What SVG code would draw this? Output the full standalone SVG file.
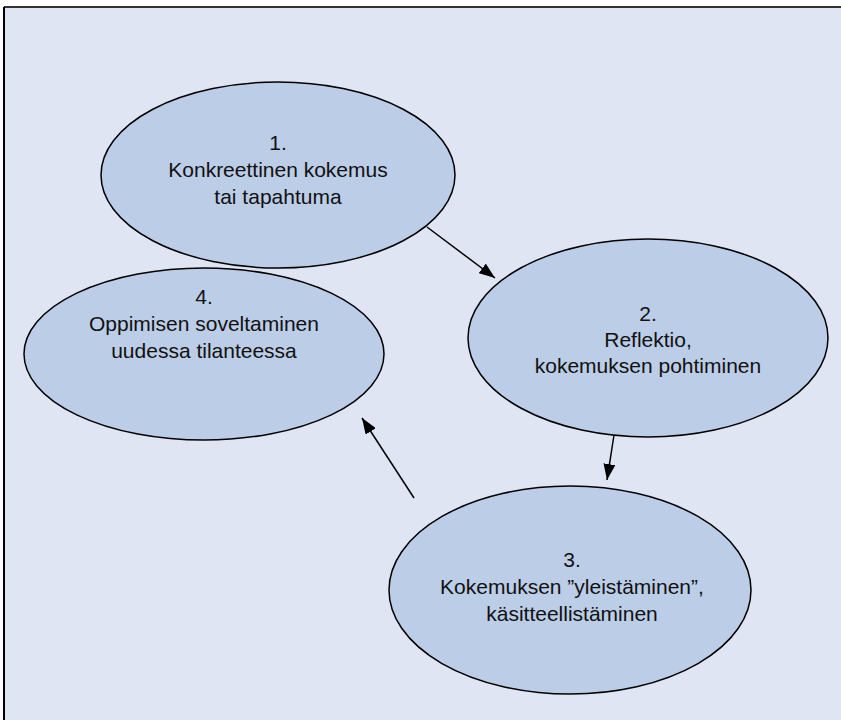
<svg xmlns="http://www.w3.org/2000/svg" width="841" height="720" viewBox="0 0 841 720">
<style>
.node ellipse{fill:#bccde7;stroke:#000;stroke-width:1.5}
.node text{font-family:"Liberation Sans",Arial,sans-serif;font-size:21px;fill:#111;text-anchor:middle}
.conn line{stroke:#000;stroke-width:1.5;marker-end:url(#ah)}
</style>
<defs>
<marker id="ah" viewBox="0 0 16 12" refX="16" refY="6" markerWidth="16" markerHeight="12" markerUnits="userSpaceOnUse" orient="auto">
<path d="M0,0 L16,6 L0,12 z" fill="#000"/>
</marker>
</defs>
<rect x="0" y="0" width="841" height="720" fill="#fff"/>
<rect x="4" y="7" width="837" height="713" fill="#dfe5f2"/>
<line x1="4" y1="7" x2="841" y2="7" stroke="#333" stroke-width="2"/>
<line x1="4" y1="7" x2="4" y2="720" stroke="#000" stroke-width="2"/>
<g class="conn">
<line x1="427" y1="227" x2="495" y2="278"/>
<line x1="614" y1="435" x2="607" y2="480"/>
<line x1="414" y1="498" x2="362" y2="418"/>
</g>
<g id="n1" class="node">
<ellipse cx="278" cy="175" rx="177" ry="93"/>
<text x="278" y="150">1.</text>
<text x="278" y="177">Konkreettinen kokemus</text>
<text x="278" y="204">tai tapahtuma</text>
</g>
<g id="n2" class="node">
<ellipse cx="648" cy="338" rx="180" ry="99"/>
<text x="648" y="321">2.</text>
<text x="648" y="347">Reflektio,</text>
<text x="648" y="373">kokemuksen pohtiminen</text>
</g>
<g id="n3" class="node">
<ellipse cx="570" cy="590" rx="181" ry="104"/>
<text x="572" y="567">3.</text>
<text x="572" y="594">Kokemuksen ”yleistäminen”,</text>
<text x="572" y="621">käsitteellistäminen</text>
</g>
<g id="n4" class="node">
<ellipse cx="204" cy="354" rx="180" ry="86"/>
<text x="204" y="304">4.</text>
<text x="204" y="331">Oppimisen soveltaminen</text>
<text x="204" y="358">uudessa tilanteessa</text>
</g>
</svg>
